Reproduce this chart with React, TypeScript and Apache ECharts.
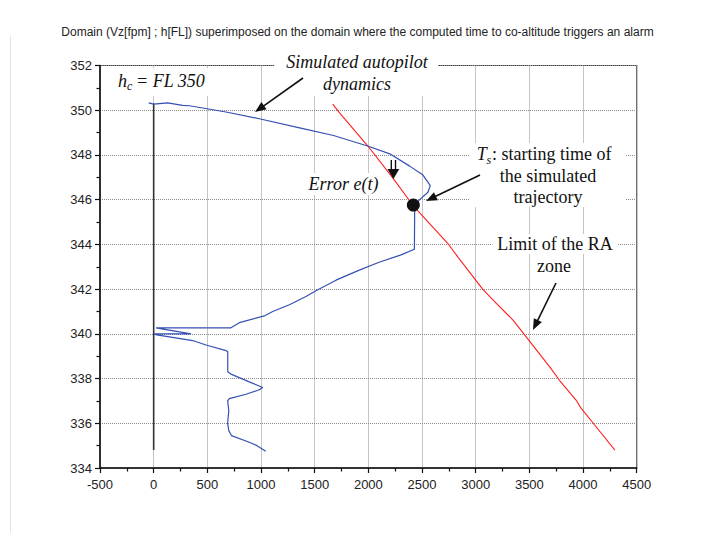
import React, { useEffect, useRef } from "react";
import * as echarts from "echarts";

const chartTitle =
  "Domain (Vz[fpm] ; h[FL]) superimposed on the domain where the computed time to co-altitude triggers an alarm";

const xMin = -500;
const xMax = 4500;
const xStep = 500;
const yMin = 334;
const yMax = 352;
const yStep = 2;

// Simulated autopilot trajectory (Vz [fpm], h [FL]) in drawing order
const autopilotVz = [
  -47, 0, 130, 270, 332, 457, 674, 984, 1370, 1676, 2000, 2200, 2385, 2509, 2577, 2555, 2478, 2432,
  2429, 2305, 2100, 1916, 1823, 1699, 1512, 1419, 1264, 1109, 1031, 798, 720, 22, 348, 0, 30, 363,
  488, 674, 690, 690, 720, 891, 1016, 984, 860, 705, 689, 700, 689, 700, 725, 890, 963, 1044,
];
const autopilotH = [
  350.33, 350.27, 350.33, 350.22, 350.2, 350.1, 349.92, 349.62, 349.2, 348.87, 348.39, 348.05, 347.5,
  347.1, 346.63, 346.33, 346.0, 345.75, 343.78, 343.53, 343.2, 342.85, 342.66, 342.4, 341.93, 341.67,
  341.3, 341.0, 340.8, 340.5, 340.27, 340.27, 340.0, 340.0, 339.95, 339.7, 339.5, 339.25, 339.2, 338.3,
  338.2, 337.85, 337.6, 337.5, 337.3, 337.1, 337.0, 336.57, 336.0, 335.67, 335.45, 335.15, 335.0, 334.75,
];

// Limit of the RA zone (Vz [fpm], h [FL])
const raLimitVz = [
  1668, 1738, 1994, 2231, 2413, 2739, 2840, 3065, 3165, 3350, 3494, 3693, 3784, 3935, 3978, 4095, 4297,
];
const raLimitH = [
  350.27, 349.85, 348.41, 346.95, 345.76, 344.05, 343.4, 342.0, 341.5, 340.6, 339.72, 338.5, 337.9,
  337.04, 336.7, 336.0, 334.8,
];

// Commanded altitude reference (Vz = 0)
const commandVz = [0, 0];
const commandH = [350.3, 334.8];

// Starting point Ts of the simulated trajectory
const startVz = [2419];
const startH = [345.76];

const zip = (a: number[], b: number[]) => a.map((v, i) => [v, b[i]]);

const SERIF = "'Liberation Serif', 'Times New Roman', serif";
const SANS = "'Liberation Sans', Arial, sans-serif";

function arrow(x1: number, y1: number, x2: number, y2: number, len = 11, half = 4.5) {
  const dx = x2 - x1;
  const dy = y2 - y1;
  const d = Math.sqrt(dx * dx + dy * dy);
  const ux = dx / d;
  const uy = dy / d;
  const bx = x2 - ux * len;
  const by = y2 - uy * len;
  const nx = -uy;
  const ny = ux;
  return [
    {
      type: "line",
      z: 100,
      shape: { x1, y1, x2: bx + ux * 2, y2: by + uy * 2 },
      style: { stroke: "#111", lineWidth: 1.6 },
    },
    {
      type: "polygon",
      z: 100,
      shape: {
        points: [
          [x2, y2],
          [bx + nx * half, by + ny * half],
          [bx - nx * half, by - ny * half],
        ],
      },
      style: { fill: "#111" },
    },
  ];
}

function txt(
  text: string,
  x: number,
  y: number,
  opts: { size?: number; italic?: boolean; align?: string; bg?: boolean; pad?: number[] } = {}
) {
  const align = opts.align || "center";
  return {
    type: "text",
    x,
    y,
    z: 101,
    style: {
      text,
      fill: "#111",
      fontSize: opts.size || 18,
      fontFamily: SERIF,
      fontStyle: opts.italic ? "italic" : "normal",
      align,
      verticalAlign: "middle",
      textAlign: align,
      textVerticalAlign: "middle",
      backgroundColor: opts.bg ? "#fff" : undefined,
      padding: opts.pad || [0, 0],
    },
  };
}

export default function App() {
  const ref = useRef<HTMLDivElement>(null);

  useEffect(() => {
    if (!ref.current) return;
    const chart = echarts.init(ref.current, undefined, { renderer: "svg" });

    const axisCommon = {
      type: "value",
      axisLine: { show: true, onZero: false, lineStyle: { color: "#111", width: 1.5 } },
      axisTick: { show: true, length: 5, lineStyle: { color: "#111", width: 1.2 } },
      minorTick: { show: true, splitNumber: 2, length: 3.5, lineStyle: { color: "#111", width: 1.2 } },
      splitLine: { show: true, lineStyle: { type: "dotted", color: "#8a8a8a", width: 1 } },
      minorSplitLine: { show: false },
    };
    const labelCommon = {
      color: "#222",
      fontSize: 13,
      fontFamily: SANS,
      formatter: (v: number) => String(v),
    };

    const graphics: any[] = [
      {
        type: "line",
        z: 1,
        shape: { x1: 10.5, y1: 36, x2: 10.5, y2: 533 },
        style: { stroke: "#e4e4e4", lineWidth: 1 },
      },
      // hc = FL 350
      {
        type: "rect",
        z: 99,
        shape: { x: 112, y: 68, width: 102, height: 28 },
        style: { fill: "#fff" },
      },
      txt("h", 118, 80.5, { italic: true, align: "left" }),
      txt("c", 127, 86, { italic: true, align: "left", size: 12 }),
      txt("= FL 350", 136, 80.5, { italic: true, align: "left" }),
      // Simulated autopilot dynamics
      {
        type: "rect",
        z: 99,
        shape: { x: 274, y: 56, width: 164, height: 40 },
        style: { fill: "#fff" },
      },
      txt("Simulated autopilot", 357, 62, { italic: true }),
      txt("dynamics", 357, 84, { italic: true }),
      ...arrow(303, 78, 255, 112),
      // Error e(t)
      txt("Error e(t)", 343.5, 184, { italic: true, bg: true, pad: [2, 3] }),
      {
        type: "line",
        z: 100,
        shape: { x1: 391.3, y1: 160, x2: 391.3, y2: 171 },
        style: { stroke: "#111", lineWidth: 1.4 },
      },
      {
        type: "line",
        z: 100,
        shape: { x1: 395.5, y1: 160, x2: 395.5, y2: 171 },
        style: { stroke: "#111", lineWidth: 1.4 },
      },
      {
        type: "polygon",
        z: 100,
        shape: { points: [[387.5, 169], [399.3, 169], [393.4, 179]] },
        style: { fill: "#111" },
      },
      // Ts text
      {
        type: "rect",
        z: 99,
        shape: { x: 470, y: 143, width: 155, height: 64 },
        style: { fill: "#fff" },
      },
      txt("T", 476.7, 154, { italic: true, align: "left" }),
      txt("s", 486.5, 159.5, { italic: true, align: "left", size: 12 }),
      txt(": starting time of", 492, 154, { align: "left" }),
      txt("the simulated", 548, 175.7),
      txt("trajectory", 548, 197),
      ...arrow(480, 175, 426, 201),
      // Limit of the RA zone
      txt("Limit of the RA", 555, 244, { bg: true, pad: [1, 5] }),
      txt("zone", 554, 265.7, { bg: true, pad: [1, 5] }),
      ...arrow(556, 283, 533, 330),
    ];

    chart.setOption({
      animation: false,
      backgroundColor: "#fff",
      title: {
        text: chartTitle,
        left: "center",
        top: 21,
        textStyle: { fontSize: 12, fontFamily: SANS, fontWeight: "normal", color: "#222" },
      },
      grid: {
        left: 100,
        top: 65.5,
        right: 78.3,
        bottom: 68,
        show: true,
        borderColor: "#444",
        borderWidth: 1.2,
        backgroundColor: "transparent",
      },
      xAxis: {
        ...axisCommon,
        min: xMin,
        max: xMax,
        interval: xStep,
        axisLabel: { ...labelCommon, margin: 10 },
      },
      yAxis: {
        ...axisCommon,
        min: yMin,
        max: yMax,
        interval: yStep,
        axisLabel: { ...labelCommon, margin: 8 },
      },
      series: [
        {
          type: "line",
          name: "Commanded altitude",
          data: zip(commandVz, commandH),
          showSymbol: false,
          lineStyle: { color: "#333", width: 1.6 },
          z: 2,
        },
        {
          type: "line",
          name: "Limit of the RA zone",
          data: zip(raLimitVz, raLimitH),
          showSymbol: false,
          lineStyle: { color: "#ff1f1f", width: 1.1 },
          z: 3,
        },
        {
          type: "line",
          name: "Simulated autopilot dynamics",
          data: zip(autopilotVz, autopilotH),
          showSymbol: false,
          lineStyle: { color: "#3550b3", width: 1.2 },
          z: 4,
        },
        {
          type: "scatter",
          name: "Ts",
          data: zip(startVz, startH),
          symbolSize: 13,
          itemStyle: { color: "#111", opacity: 1 },
          z: 5,
        },
      ],
      graphic: graphics,
    });

    return () => chart.dispose();
  }, []);

  return (
    <div
      ref={ref}
      style={{ position: "fixed", left: 0, top: 0, width: 715, height: 536, background: "#fff" }}
    />
  );
}
